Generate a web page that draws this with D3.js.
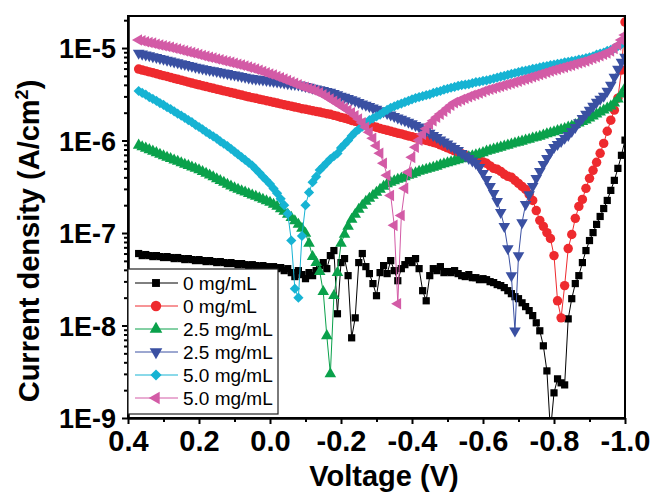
<!DOCTYPE html>
<html>
<head>
<meta charset="utf-8">
<script src="https://cdn.jsdelivr.net/npm/d3@7"></script>
<style>
  body { margin: 0; background: #fff; }
  svg { display: block; }
  text { font-family: "Liberation Sans", Arial, sans-serif; }
</style>
</head>
<body>
<svg id="chart" width="653" height="493"></svg>
<script>
// Bias sweep (V), 10 mV steps
const voltage = [
  0.37, 0.36, 0.35, 0.34, 0.33, 0.32, 0.31, 0.30, 0.29, 0.28,
  0.27, 0.26, 0.25, 0.24, 0.23, 0.22, 0.21, 0.20, 0.19, 0.18,
  0.17, 0.16, 0.15, 0.14, 0.13, 0.12, 0.11, 0.10, 0.09, 0.08,
  0.07, 0.06, 0.05, 0.04, 0.03, 0.02, 0.01, 0.00, -0.01, -0.02,
  -0.03, -0.04, -0.05, -0.06, -0.07, -0.08, -0.09, -0.10, -0.11, -0.12,
  -0.13, -0.14, -0.15, -0.16, -0.17, -0.18, -0.19, -0.20, -0.21, -0.22,
  -0.23, -0.24, -0.25, -0.26, -0.27, -0.28, -0.29, -0.30, -0.31, -0.32,
  -0.33, -0.34, -0.35, -0.36, -0.37, -0.38, -0.39, -0.40, -0.41, -0.42,
  -0.43, -0.44, -0.45, -0.46, -0.47, -0.48, -0.49, -0.50, -0.51, -0.52,
  -0.53, -0.54, -0.55, -0.56, -0.57, -0.58, -0.59, -0.60, -0.61, -0.62,
  -0.63, -0.64, -0.65, -0.66, -0.67, -0.68, -0.69, -0.70, -0.71, -0.72,
  -0.73, -0.74, -0.75, -0.76, -0.77, -0.78, -0.79, -0.80, -0.81, -0.82,
  -0.83, -0.84, -0.85, -0.86, -0.87, -0.88, -0.89, -0.90, -0.91, -0.92,
  -0.93, -0.94, -0.95, -0.96, -0.97, -0.98, -0.99, -1.00
];

// |J| in A/cm^2 for each device
const j0mgDark = [
  6.00e-8, 5.70e-8, 5.85e-8, 5.70e-8, 5.56e-8, 5.70e-8, 5.56e-8, 5.43e-8, 5.56e-8, 5.43e-8,
  5.29e-8, 5.43e-8, 5.29e-8, 5.16e-8, 5.29e-8, 5.16e-8, 5.03e-8, 5.16e-8, 5.03e-8, 4.91e-8,
  5.03e-8, 4.91e-8, 4.79e-8, 4.91e-8, 4.79e-8, 4.67e-8, 4.79e-8, 4.67e-8, 4.55e-8, 4.67e-8,
  4.55e-8, 4.44e-8, 4.55e-8, 4.44e-8, 4.33e-8, 4.44e-8, 4.33e-8, 4.23e-8, 4.33e-8, 4.12e-8,
  4.23e-8, 3.92e-8, 4.12e-8, 3.73e-8, 3.38e-8, 3.92e-8, 3.55e-8, 3.21e-8, 3.73e-8, 3.46e-8,
  3.92e-8, 4.44e-8, 4.79e-8, 4.12e-8, 5.70e-8, 6.46e-8, 1.34e-8, 4.79e-8, 5.29e-8, 3.46e-8,
  7.36e-9, 1.21e-8, 4.79e-8, 6.00e-8, 4.33e-8, 3.64e-8, 2.84e-8, 2.10e-8, 3.73e-8, 4.44e-8,
  3.64e-8, 5.03e-8, 3.92e-8, 3.05e-8, 4.12e-8, 4.55e-8, 5.03e-8, 4.79e-8, 5.29e-8, 4.12e-8,
  2.38e-8, 1.85e-8, 3.46e-8, 4.12e-8, 3.92e-8, 4.33e-8, 3.73e-8, 3.83e-8, 3.73e-8, 3.92e-8,
  3.64e-8, 3.46e-8, 3.38e-8, 3.55e-8, 3.29e-8, 3.29e-8, 3.13e-8, 3.21e-8, 3.13e-8, 2.98e-8,
  2.91e-8, 2.77e-8, 2.70e-8, 2.57e-8, 2.38e-8, 2.21e-8, 2.05e-8, 1.95e-8, 1.76e-8, 1.60e-8,
  1.45e-8, 1.28e-8, 1.07e-8, 8.77e-9, 6.03e-9, 3.23e-9, 7.2e-10, 1.87e-9, 2.65e-9, 2.40e-9,
  2.28e-9, 1.18e-8, 1.95e-8, 2.84e-8, 3.46e-8, 4.79e-8, 6.46e-8, 8.29e-8, 1.01e-7, 1.24e-7,
  1.51e-7, 1.84e-7, 2.25e-7, 2.89e-7, 3.71e-7, 5.00e-7, 6.92e-7, 1.01e-6
];
const j0mgLight = [
  5.92e-6, 5.78e-6, 5.66e-6, 5.52e-6, 5.40e-6, 5.28e-6, 5.15e-6, 5.03e-6, 4.92e-6, 4.81e-6,
  4.69e-6, 4.59e-6, 4.49e-6, 4.39e-6, 4.28e-6, 4.18e-6, 4.09e-6, 4.00e-6, 3.91e-6, 3.83e-6,
  3.75e-6, 3.67e-6, 3.59e-6, 3.52e-6, 3.44e-6, 3.38e-6, 3.30e-6, 3.24e-6, 3.16e-6, 3.10e-6,
  3.03e-6, 2.97e-6, 2.91e-6, 2.86e-6, 2.80e-6, 2.75e-6, 2.69e-6, 2.64e-6, 2.59e-6, 2.54e-6,
  2.49e-6, 2.44e-6, 2.39e-6, 2.35e-6, 2.30e-6, 2.26e-6, 2.21e-6, 2.18e-6, 2.14e-6, 2.10e-6,
  2.06e-6, 2.03e-6, 1.99e-6, 1.95e-6, 1.92e-6, 1.87e-6, 1.83e-6, 1.78e-6, 1.74e-6, 1.70e-6,
  1.65e-6, 1.61e-6, 1.57e-6, 1.53e-6, 1.50e-6, 1.46e-6, 1.42e-6, 1.39e-6, 1.35e-6, 1.32e-6,
  1.29e-6, 1.26e-6, 1.23e-6, 1.20e-6, 1.18e-6, 1.15e-6, 1.12e-6, 1.10e-6, 1.07e-6, 1.05e-6,
  1.02e-6, 1.00e-6, 9.76e-7, 9.53e-7, 9.31e-7, 8.97e-7, 8.64e-7, 8.34e-7, 8.02e-7, 7.74e-7,
  7.46e-7, 7.18e-7, 6.92e-7, 6.66e-7, 6.42e-7, 6.18e-7, 6.03e-7, 5.88e-7, 5.67e-7, 5.32e-7,
  5.00e-7, 4.88e-7, 4.64e-7, 4.31e-7, 4.10e-7, 4.00e-7, 3.71e-7, 3.44e-7, 3.19e-7, 2.96e-7,
  2.61e-7, 2.25e-7, 1.75e-7, 1.37e-7, 1.18e-7, 1.01e-7, 8.72e-8, 5.70e-8, 1.85e-8, 1.21e-8,
  2.70e-8, 6.79e-8, 9.63e-8, 1.44e-7, 1.94e-7, 2.31e-7, 3.04e-7, 3.90e-7, 4.76e-7, 5.81e-7,
  7.27e-7, 9.31e-7, 1.26e-6, 1.66e-6, 2.13e-6, 2.87e-6, 5.78e-6, 1.91e-5
];
const j25mgDark = [
  8.88e-7, 8.55e-7, 8.24e-7, 7.94e-7, 7.65e-7, 7.37e-7, 7.09e-7, 6.83e-7, 6.58e-7, 6.36e-7,
  6.14e-7, 5.93e-7, 5.72e-7, 5.53e-7, 5.34e-7, 5.15e-7, 4.98e-7, 4.81e-7, 4.60e-7, 4.40e-7,
  4.21e-7, 4.03e-7, 3.85e-7, 3.68e-7, 3.52e-7, 3.35e-7, 3.21e-7, 3.07e-7, 2.96e-7, 2.86e-7,
  2.76e-7, 2.67e-7, 2.57e-7, 2.49e-7, 2.39e-7, 2.31e-7, 2.22e-7, 2.14e-7, 2.04e-7, 1.94e-7,
  1.82e-7, 1.71e-7, 1.59e-7, 1.47e-7, 1.35e-7, 1.24e-7, 1.12e-7, 9.88e-8, 7.70e-8, 5.56e-8,
  4.79e-8, 3.83e-8, 2.32e-8, 7.74e-9, 3.00e-9, 2.10e-8, 3.73e-8, 7.70e-8, 9.63e-8, 1.18e-7,
  1.40e-7, 1.59e-7, 1.80e-7, 1.99e-7, 2.20e-7, 2.37e-7, 2.55e-7, 2.75e-7, 2.96e-7, 3.19e-7,
  3.40e-7, 3.53e-7, 3.66e-7, 3.80e-7, 3.90e-7, 4.05e-7, 4.20e-7, 4.31e-7, 4.47e-7, 4.64e-7,
  4.76e-7, 4.88e-7, 5.00e-7, 5.13e-7, 5.26e-7, 5.46e-7, 5.60e-7, 5.74e-7, 5.88e-7, 6.03e-7,
  6.18e-7, 6.34e-7, 6.50e-7, 6.66e-7, 6.83e-7, 7.00e-7, 7.18e-7, 7.37e-7, 7.65e-7, 7.84e-7,
  8.04e-7, 8.24e-7, 8.45e-7, 8.67e-7, 8.88e-7, 9.11e-7, 9.34e-7, 9.57e-7, 9.81e-7, 1.01e-6,
  1.03e-6, 1.06e-6, 1.08e-6, 1.11e-6, 1.14e-6, 1.18e-6, 1.21e-6, 1.24e-6, 1.28e-6, 1.31e-6,
  1.34e-6, 1.39e-6, 1.43e-6, 1.48e-6, 1.54e-6, 1.60e-6, 1.66e-6, 1.74e-6, 1.83e-6, 1.93e-6,
  2.02e-6, 2.13e-6, 2.24e-6, 2.35e-6, 2.53e-6, 2.80e-6, 3.17e-6, 3.68e-6
];
const j25mgLight = [
  8.83e-6, 8.63e-6, 8.46e-6, 8.27e-6, 8.09e-6, 7.93e-6, 7.75e-6, 7.58e-6, 7.41e-6, 7.27e-6,
  7.10e-6, 6.96e-6, 6.81e-6, 6.66e-6, 6.51e-6, 6.38e-6, 6.24e-6, 6.10e-6, 6.00e-6, 5.89e-6,
  5.79e-6, 5.69e-6, 5.59e-6, 5.49e-6, 5.40e-6, 5.31e-6, 5.21e-6, 5.12e-6, 5.03e-6, 4.95e-6,
  4.85e-6, 4.76e-6, 4.69e-6, 4.63e-6, 4.58e-6, 4.52e-6, 4.47e-6, 4.41e-6, 4.36e-6, 4.30e-6,
  4.25e-6, 4.20e-6, 4.14e-6, 4.09e-6, 4.04e-6, 3.99e-6, 3.93e-6, 3.85e-6, 3.78e-6, 3.70e-6,
  3.63e-6, 3.55e-6, 3.48e-6, 3.40e-6, 3.33e-6, 3.23e-6, 3.13e-6, 3.03e-6, 2.94e-6, 2.85e-6,
  2.77e-6, 2.68e-6, 2.59e-6, 2.50e-6, 2.42e-6, 2.34e-6, 2.26e-6, 2.19e-6, 2.11e-6, 2.05e-6,
  1.97e-6, 1.90e-6, 1.83e-6, 1.76e-6, 1.70e-6, 1.64e-6, 1.58e-6, 1.52e-6, 1.46e-6, 1.41e-6,
  1.34e-6, 1.27e-6, 1.20e-6, 1.14e-6, 1.08e-6, 1.02e-6, 9.69e-7, 9.18e-7, 8.68e-7, 8.24e-7,
  7.84e-7, 7.27e-7, 6.83e-7, 6.42e-7, 6.03e-7, 5.67e-7, 5.13e-7, 4.42e-7, 3.80e-7, 3.19e-7,
  2.68e-7, 2.20e-7, 1.67e-7, 1.18e-7, 6.79e-8, 3.46e-8, 8.77e-9, 5.70e-8, 1.30e-7, 2.04e-7,
  2.61e-7, 3.19e-7, 3.90e-7, 4.64e-7, 5.53e-7, 6.42e-7, 7.46e-7, 8.45e-7, 9.11e-7, 9.81e-7,
  1.06e-6, 1.14e-6, 1.26e-6, 1.39e-6, 1.56e-6, 1.74e-6, 1.93e-6, 2.13e-6, 2.35e-6, 2.60e-6,
  2.80e-6, 3.02e-6, 3.42e-6, 3.97e-6, 4.85e-6, 5.92e-6, 7.05e-6, 7.99e-6
];
const j50mgDark = [
  3.43e-6, 3.27e-6, 3.13e-6, 2.95e-6, 2.82e-6, 2.69e-6, 2.54e-6, 2.43e-6, 2.29e-6, 2.19e-6,
  2.07e-6, 1.95e-6, 1.86e-6, 1.76e-6, 1.66e-6, 1.58e-6, 1.48e-6, 1.40e-6, 1.32e-6, 1.24e-6,
  1.17e-6, 1.11e-6, 1.05e-6, 9.77e-7, 9.23e-7, 8.71e-7, 8.13e-7, 7.59e-7, 7.08e-7, 6.61e-7,
  6.17e-7, 5.75e-7, 5.37e-7, 4.90e-7, 4.47e-7, 4.07e-7, 3.72e-7, 3.39e-7, 3.02e-7, 2.69e-7,
  2.34e-7, 2.00e-7, 1.62e-7, 8.3e-8, 2.5e-8, 2.0e-8, 9.3e-8, 2.00e-7, 2.75e-7, 3.55e-7,
  4.07e-7, 4.79e-7, 5.25e-7, 5.75e-7, 6.31e-7, 6.76e-7, 7.24e-7, 8.32e-7, 9.12e-7, 1.00e-6,
  1.12e-6, 1.23e-6, 1.32e-6, 1.41e-6, 1.55e-6, 1.66e-6, 1.74e-6, 1.82e-6, 1.91e-6, 2.04e-6,
  2.14e-6, 2.26e-6, 2.34e-6, 2.43e-6, 2.51e-6, 2.60e-6, 2.69e-6, 2.79e-6, 2.88e-6, 2.95e-6,
  3.02e-6, 3.09e-6, 3.16e-6, 3.27e-6, 3.35e-6, 3.43e-6, 3.55e-6, 3.63e-6, 3.72e-6, 3.80e-6,
  3.89e-6, 3.98e-6, 4.03e-6, 4.07e-6, 4.17e-6, 4.27e-6, 4.32e-6, 4.42e-6, 4.47e-6, 4.57e-6,
  4.68e-6, 4.79e-6, 4.90e-6, 5.01e-6, 5.13e-6, 5.25e-6, 5.37e-6, 5.50e-6, 5.62e-6, 5.69e-6,
  5.82e-6, 5.96e-6, 6.03e-6, 6.17e-6, 6.31e-6, 6.38e-6, 6.53e-6, 6.61e-6, 6.76e-6, 6.84e-6,
  7.00e-6, 7.08e-6, 7.24e-6, 7.33e-6, 7.50e-6, 7.59e-6, 7.76e-6, 7.94e-6, 8.13e-6, 8.51e-6,
  8.71e-6, 8.91e-6, 9.33e-6, 9.55e-6, 1.00e-5, 1.05e-5, 1.10e-5, 1.17e-5
];
const j50mgLight = [
  1.22e-5, 1.20e-5, 1.17e-5, 1.15e-5, 1.13e-5, 1.10e-5, 1.08e-5, 1.06e-5, 1.04e-5, 1.02e-5,
  9.95e-6, 9.75e-6, 9.54e-6, 9.32e-6, 9.12e-6, 8.92e-6, 8.72e-6, 8.50e-6, 8.29e-6, 8.13e-6,
  7.95e-6, 7.79e-6, 7.62e-6, 7.47e-6, 7.30e-6, 7.16e-6, 7.00e-6, 6.84e-6, 6.69e-6, 6.54e-6,
  6.38e-6, 6.22e-6, 6.07e-6, 5.92e-6, 5.74e-6, 5.57e-6, 5.41e-6, 5.25e-6, 5.10e-6, 4.93e-6,
  4.78e-6, 4.61e-6, 4.45e-6, 4.30e-6, 4.15e-6, 4.01e-6, 3.87e-6, 3.76e-6, 3.65e-6, 3.54e-6,
  3.42e-6, 3.29e-6, 3.13e-6, 2.98e-6, 2.81e-6, 2.66e-6, 2.52e-6, 2.38e-6, 2.25e-6, 2.12e-6,
  2.00e-6, 1.85e-6, 1.71e-6, 1.56e-6, 1.39e-6, 1.23e-6, 1.06e-6, 8.77e-7, 7.27e-7, 5.67e-7,
  4.20e-7, 2.55e-7, 1.21e-7, 1.72e-8, 1.55e-7, 3.04e-7, 4.53e-7, 6.58e-7, 8.45e-7, 1.01e-6,
  1.17e-6, 1.34e-6, 1.50e-6, 1.64e-6, 1.79e-6, 1.93e-6, 2.07e-6, 2.24e-6, 2.41e-6, 2.57e-6,
  2.66e-6, 2.77e-6, 2.87e-6, 2.98e-6, 3.08e-6, 3.17e-6, 3.27e-6, 3.38e-6, 3.49e-6, 3.59e-6,
  3.68e-6, 3.78e-6, 3.87e-6, 3.97e-6, 4.07e-6, 4.17e-6, 4.28e-6, 4.39e-6, 4.52e-6, 4.63e-6,
  4.76e-6, 4.90e-6, 5.03e-6, 5.17e-6, 5.32e-6, 5.47e-6, 5.64e-6, 5.78e-6, 5.92e-6, 6.07e-6,
  6.22e-6, 6.38e-6, 6.54e-6, 6.71e-6, 6.88e-6, 7.05e-6, 7.23e-6, 7.51e-6, 7.75e-6, 7.99e-6,
  8.25e-6, 8.55e-6, 8.83e-6, 9.28e-6, 9.88e-6, 1.08e-5, 1.22e-5, 1.38e-5
];

const seriesLabels = ["0 mg/mL", "0 mg/mL", "2.5 mg/mL", "2.5 mg/mL", "5.0 mg/mL", "5.0 mg/mL"];
const seriesColors = ["#000000", "#ee2a2e", "#0aa14b", "#3a50a2", "#16b3d3", "#d35ba6"];
const seriesValues = [j0mgDark, j0mgLight, j25mgDark, j25mgLight, j50mgDark, j50mgLight];

const xTickValues = [0.4, 0.2, 0.0, -0.2, -0.4, -0.6, -0.8, -1.0];
const xTickLabels = ["0.4", "0.2", "0.0", "-0.2", "-0.4", "-0.6", "-0.8", "-1.0"];
const xMinorValues = [0.3, 0.1, -0.1, -0.3, -0.5, -0.7, -0.9];
const yTickValues = [1e-9, 1e-8, 1e-7, 1e-6, 1e-5];
const yTickLabels = ["1E-9", "1E-8", "1E-7", "1E-6", "1E-5"];

// ---- layout ----
const plot = { left: 128, right: 625, top: 16, bottom: 418 };
const svg = d3.select("#chart");

const x = d3.scaleLinear().domain([0.4, -1.0]).range([plot.left, plot.right]);
const y = d3.scaleLog().domain([1e-9, 2.22e-5]).range([plot.bottom, plot.top]);

// minor ticks on the log axis: 2..9 of every decade inside the domain
const yMinorValues = [];
yTickValues.forEach(dec => {
  for (let m = 2; m <= 9; m++) {
    const v = m * dec;
    if (v <= y.domain()[1]) yMinorValues.push(v);
  }
});

svg.append("defs").append("clipPath").attr("id", "plotClip")
  .append("rect")
  .attr("x", plot.left).attr("y", plot.top)
  .attr("width", plot.right - plot.left).attr("height", plot.bottom - plot.top);

// ---- markers ----
const markerDefs = [
  { type: d3.symbolSquare,   size: 52, rotate: 0 },
  { type: d3.symbolCircle,   size: 70, rotate: 0 },
  { type: d3.symbolTriangle, size: 58, rotate: 0 },
  { type: d3.symbolTriangle, size: 58, rotate: 180 },
  { type: d3.symbolSquare,   size: 52, rotate: 45 },
  { type: d3.symbolTriangle, size: 58, rotate: -90 }
];

const dataLayer = svg.append("g").attr("clip-path", "url(#plotClip)");

seriesValues.forEach((vals, si) => {
  const pts = voltage.map((v, i) => ({ v, j: vals[i] }));
  const g = dataLayer.append("g");
  const line = d3.line().x(d => x(d.v)).y(d => y(d.j));
  g.append("path")
    .attr("d", line(pts))
    .attr("fill", "none")
    .attr("stroke", seriesColors[si])
    .attr("stroke-width", 1);
  const m = markerDefs[si];
  const sym = d3.symbol().type(m.type).size(m.size);
  g.selectAll("path.pt").data(pts).join("path")
    .attr("class", "pt")
    .attr("d", sym)
    .attr("transform", d => `translate(${x(d.v)},${y(d.j)}) rotate(${m.rotate})`)
    .attr("fill", seriesColors[si]);
});

// ---- frame ----
svg.append("rect")
  .attr("x", plot.left).attr("y", plot.top)
  .attr("width", plot.right - plot.left).attr("height", plot.bottom - plot.top)
  .attr("fill", "none").attr("stroke", "#000").attr("stroke-width", 2);

// ---- axes ----
const xAxis = d3.axisBottom(x).tickValues(xTickValues).tickSize(6).tickSizeOuter(0)
  .tickFormat((d, i) => xTickLabels[i]);
const xMinor = d3.axisBottom(x).tickValues(xMinorValues).tickSize(4).tickSizeOuter(0).tickFormat("");
const yAxis = d3.axisLeft(y).tickValues(yTickValues).tickSize(6).tickSizeOuter(0)
  .tickFormat((d, i) => yTickLabels[i]);
const yMinor = d3.axisLeft(y).tickValues(yMinorValues).tickSize(4).tickSizeOuter(0).tickFormat("");

function styleAxis(g) {
  g.select(".domain").attr("stroke", "#000").attr("stroke-width", 2);
  g.selectAll(".tick line").attr("stroke", "#000").attr("stroke-width", 2);
}

svg.append("g").attr("transform", `translate(0,${plot.bottom})`).call(xMinor).call(styleAxis);
const gx = svg.append("g").attr("transform", `translate(0,${plot.bottom})`).call(xAxis).call(styleAxis);
gx.selectAll(".tick text")
  .attr("y", 12).attr("dy", "0.71em")
  .style("font-family", "'Liberation Sans', Arial, sans-serif")
  .style("font-size", "29px").style("font-weight", "bold").attr("fill", "#000");

svg.append("g").attr("transform", `translate(${plot.left},0)`).call(yMinor).call(styleAxis);
const gy = svg.append("g").attr("transform", `translate(${plot.left},0)`).call(yAxis).call(styleAxis);
gy.selectAll(".tick text")
  .attr("x", -12).attr("dy", "0.36em")
  .style("font-family", "'Liberation Sans', Arial, sans-serif")
  .style("font-size", "27px").style("font-weight", "bold").attr("fill", "#000");

// ---- axis titles ----
svg.append("text")
  .attr("x", 384).attr("y", 486)
  .attr("text-anchor", "middle")
  .style("font-size", "29px").style("font-weight", "bold")
  .text("Voltage (V)");

const yTitle = svg.append("text")
  .attr("transform", "translate(39,241) rotate(-90)")
  .attr("text-anchor", "middle")
  .style("font-size", "29px").style("font-weight", "bold");
yTitle.append("tspan").text("Current density (A/cm");
yTitle.append("tspan").attr("dy", -11).style("font-size", "18px").text("2");
yTitle.append("tspan").attr("dy", 11).text(")");

// ---- legend ----
const legend = svg.append("g");
legend.append("rect")
  .attr("x", plot.left).attr("y", 269)
  .attr("width", 150).attr("height", 145)
  .attr("fill", "#fff").attr("stroke", "#222").attr("stroke-width", 1.2);

seriesLabels.forEach((label, i) => {
  const cy = 283 + i * 23;
  const row = legend.append("g");
  row.append("line")
    .attr("x1", 135).attr("x2", 178).attr("y1", cy).attr("y2", cy)
    .attr("stroke", seriesColors[i]).attr("stroke-width", 1);
  const m = markerDefs[i];
  row.append("path")
    .attr("d", d3.symbol().type(m.type).size(m.size * 1.2)())
    .attr("transform", `translate(156,${cy}) rotate(${m.rotate})`)
    .attr("fill", seriesColors[i]);
  row.append("text")
    .attr("x", 183).attr("y", cy).attr("dy", "0.36em")
    .style("font-size", "19px")
    .text(label);
});
</script>
</body>
</html>
